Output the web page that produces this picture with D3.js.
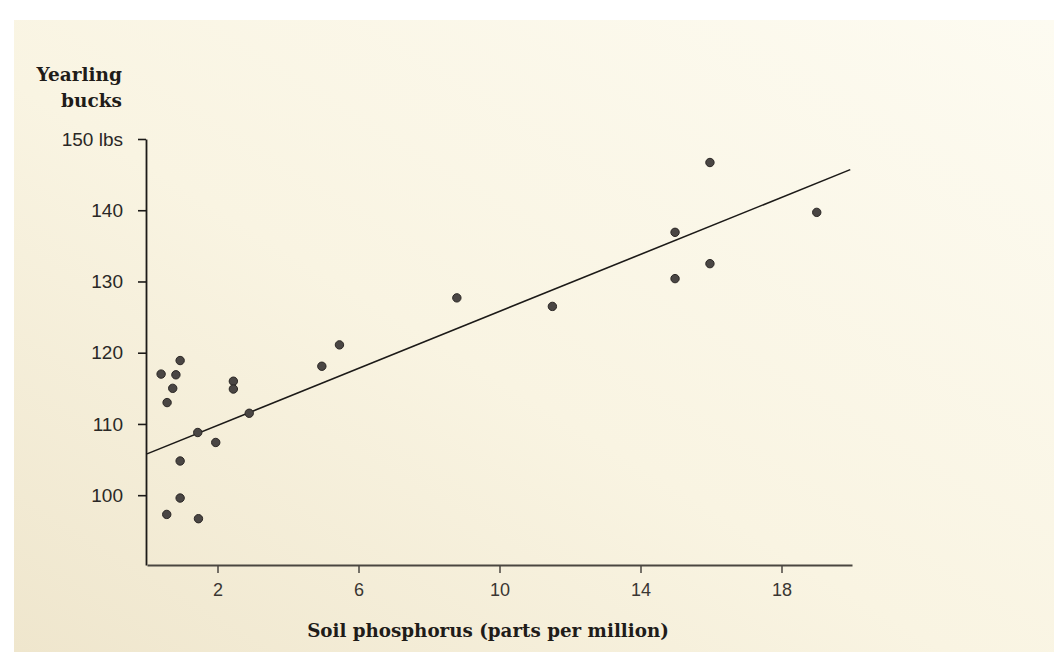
<!DOCTYPE html>
<html>
<head>
<meta charset="utf-8">
<script src="https://cdn.jsdelivr.net/npm/d3@7"></script>
<style>
  html, body { margin: 0; padding: 0; background: #ffffff; }
  svg { display: block; }
</style>
</head>
<body>
<svg id="chart" width="1054" height="664"></svg>
<script>
// ---- Data ----
const phosphorus = [0.40, 0.57, 0.73, 0.82, 0.94, 0.94, 0.94, 0.56, 1.46, 1.44, 1.95, 2.45, 2.45, 2.90, 4.96, 5.46, 8.79, 11.50, 14.98, 14.98, 15.97, 15.97, 19.00];
const weights    = [117.0, 113.0, 115.0, 116.9, 118.9, 104.8, 99.6, 97.3, 96.7, 108.8, 107.4, 116.0, 114.9, 111.5, 118.1, 121.1, 127.7, 126.5, 136.9, 130.4, 146.7, 132.5, 139.7];
const xTicks = [2, 6, 10, 14, 18];
const yTicks = [100, 110, 120, 130, 140, 150];
const yTickLabels = ["100", "110", "120", "130", "140", "150 lbs"];
const trendX = [0, 19.95];
const trendY = [105.8, 145.7];
const xDomain = [0, 20];
const yDomain = [90.2, 150];

// ---- Drawing ----
const svg = d3.select("#chart");

const defs = svg.append("defs");
const grad = defs.append("linearGradient").attr("id", "paper")
  .attr("x1", "100%").attr("y1", "0%").attr("x2", "0%").attr("y2", "100%");
grad.append("stop").attr("offset", "0%").attr("stop-color", "#fdfbf1");
grad.append("stop").attr("offset", "55%").attr("stop-color", "#f9f4e2");
grad.append("stop").attr("offset", "100%").attr("stop-color", "#efe6cd");

svg.append("rect").attr("x", 0).attr("y", 0).attr("width", 1054).attr("height", 664).attr("fill", "#ffffff");
svg.append("rect").attr("x", 14).attr("y", 20).attr("width", 1040).attr("height", 632).attr("fill", "url(#paper)");

const x = d3.scaleLinear().domain(xDomain).range([147, 852]);
const y = d3.scaleLinear().domain(yDomain).range([565, 139]);

const ink = "#1c1a18";
const tickFont = "'Liberation Sans', Arial, sans-serif";
const titleFont = "'DejaVu Serif', 'Liberation Serif', serif";

// Y axis
const yAxis = d3.axisLeft(y).tickValues(yTicks)
  .tickFormat((d, i) => yTickLabels[i]).tickSize(8).tickSizeOuter(0).tickPadding(15);
const gy = svg.append("g").attr("transform", `translate(${x(0) - 1},0)`).call(yAxis);
gy.select(".domain").attr("stroke", ink).attr("stroke-width", 1.8);
gy.selectAll(".tick line").attr("stroke", ink).attr("stroke-width", 1.6);
gy.selectAll(".tick text").attr("fill", "#2a2826")
  .style("font-family", tickFont).style("font-size", "19px");

// X axis
const xAxis = d3.axisBottom(x).tickValues(xTicks).tickSize(8).tickSizeOuter(0).tickPadding(10);
const gx = svg.append("g").attr("transform", `translate(0,${y(yDomain[0])})`).call(xAxis);
gx.select(".domain").attr("stroke", "#4a4640").attr("stroke-width", 1.8);
gx.selectAll(".tick line").attr("stroke", "#4a4640").attr("stroke-width", 1.5);
gx.selectAll(".tick text").attr("fill", "#3a3632")
  .style("font-family", tickFont).style("font-size", "18px");

// Regression line
svg.append("line")
  .attr("x1", x(trendX[0])).attr("y1", y(trendY[0]))
  .attr("x2", x(trendX[1])).attr("y2", y(trendY[1]))
  .attr("stroke", ink).attr("stroke-width", 1.6);

// Points
svg.append("g").selectAll("circle")
  .data(phosphorus.map((p, i) => ({ p, w: weights[i] })))
  .join("circle")
  .attr("cx", d => x(d.p)).attr("cy", d => y(d.w))
  .attr("r", 4.2)
  .attr("fill", "#4a4644").attr("stroke", "#2a2624").attr("stroke-width", 1);

// Axis titles
const yTitle = svg.append("text")
  .attr("text-anchor", "end")
  .attr("fill", "#1f1c19")
  .style("font-family", titleFont).style("font-weight", "bold").style("font-size", "18.5px");
yTitle.append("tspan").attr("x", 122).attr("y", 81).text("Yearling");
yTitle.append("tspan").attr("x", 122).attr("y", 107).text("bucks");

svg.append("text")
  .attr("x", 488).attr("y", 637)
  .attr("text-anchor", "middle")
  .attr("fill", "#1f1c19")
  .style("font-family", titleFont).style("font-weight", "bold").style("font-size", "18.3px")
  .text("Soil phosphorus (parts per million)");
</script>
</body>
</html>
